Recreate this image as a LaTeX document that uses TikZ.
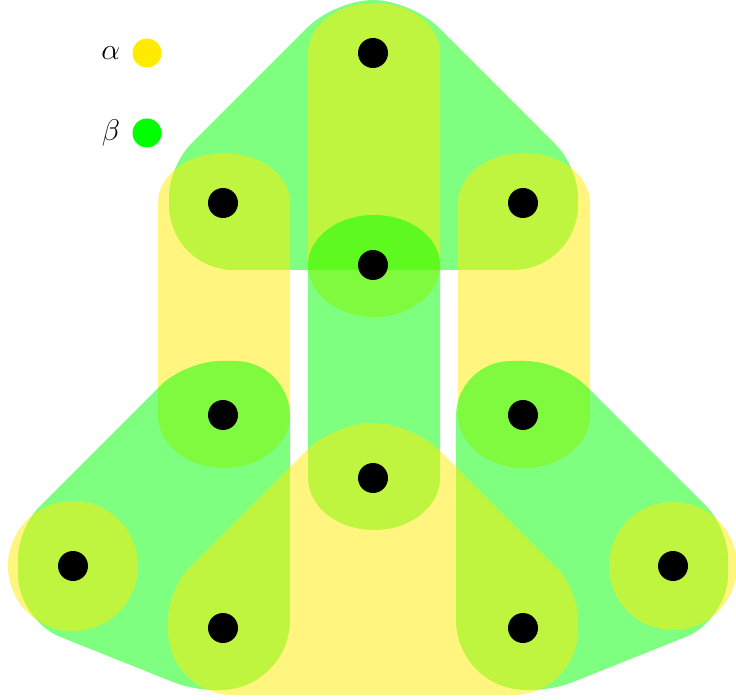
\documentclass[tikz,border=0pt]{standalone}
\usetikzlibrary{positioning,backgrounds}

\definecolor{alphayellow}{RGB}{255,235,0}
\definecolor{betagreen}{RGB}{0,255,0}

\tikzset{
  vertex/.style={circle, fill=black, minimum size=30pt, inner sep=0pt},
  alphaedge/.style={fill=alphayellow, fill opacity=0.5},
  betaedge/.style={fill=betagreen, fill opacity=0.5},
  legdot/.style={circle, minimum size=29pt, inner sep=0pt},
  legtext/.style={font=\Huge, inner sep=0pt},
}

\begin{document}
\begin{tikzpicture}[x=1pt, y=-1pt]
    \useasboundingbox (0,0) rectangle (736,700);

    % vertices
    \node[vertex] (a) at (373,53) {};
    \node[vertex] (b) at (223,203) {};
    \node[vertex] (c) at (523,203) {};
    \node[vertex] (d) at (373,265) {};
    \node[vertex] (e) at (223,415) {};
    \node[vertex] (f) at (523,415) {};
    \node[vertex] (g) at (373,478) {};
    \node[vertex] (h) at (73,566) {};
    \node[vertex] (i) at (223,628) {};
    \node[vertex] (j) at (673,566) {};
    \node[vertex] (k) at (523,628) {};

    % legend
    \node[legdot, fill=alphayellow] (alphadot) at (147,53) {};
    \node[legtext, left=12pt of alphadot] (alphalabel) {\scalebox{1.2}{$\alpha$}};
    \node[legdot, fill=betagreen] (betadot) at (147,133) {};
    \node[legtext, left=12pt of betadot] (betalabel) {\scalebox{1.2}{$\beta$}};

    % hyperedges, back to front
    \begin{scope}[on background layer]
    % beta: a, b, c
    \fill[betaedge] ([shift={(150,67)}]b.center)
        [rounded corners=65pt] -- ([shift={(-54,67)}]b.center)
        [rounded corners=30pt] -- ([shift={(-54,-37)}]b.center)
        [rounded corners=38pt] -- ([shift={(-38,-53)}]a.center)
        -- ([shift={(38,-53)}]a.center)
        [rounded corners=30pt] -- ([shift={(55,-36)}]c.center)
        [rounded corners=65pt] -- ([shift={(55,67)}]c.center)
        -- cycle;
    % alpha: a-d, b-e, c-f
    \fill[alphaedge] ([xshift=-65pt]a.center) arc[start angle=180, end angle=0, x radius=66pt, y radius=50pt]
        -- ([xshift=67pt]d.center) arc[start angle=0, end angle=-180, x radius=66pt, y radius=52pt] -- cycle;
    \fill[alphaedge] ([xshift=-65pt]b.center) arc[start angle=180, end angle=0, x radius=66pt, y radius=50pt]
        -- ([xshift=67pt]e.center) arc[start angle=0, end angle=-180, x radius=66pt, y radius=53pt] -- cycle;
    \fill[alphaedge] ([xshift=-65pt]c.center) arc[start angle=180, end angle=0, x radius=66pt, y radius=50pt]
        -- ([xshift=67pt]f.center) arc[start angle=0, end angle=-180, x radius=66pt, y radius=53pt] -- cycle;
    % beta: d-g
    \fill[betaedge] ([xshift=-65pt]d.center) arc[start angle=180, end angle=0, x radius=66pt, y radius=50pt]
        -- ([xshift=67pt]g.center) arc[start angle=0, end angle=-180, x radius=66pt, y radius=52pt] -- cycle;
    % beta: e, h, i
    \fill[betaedge] ([shift={(67,100)}]e.center)
        [rounded corners=70pt] -- ([shift={(67,62)}]i.center)
        [rounded corners=20pt] -- ([shift={(-30,62)}]i.center)
        [rounded corners=45pt] -- ([shift={(-55,54)}]h.center)
        [rounded corners=30pt] -- ([shift={(-55,-38)}]h.center)
        [rounded corners=35pt] -- ([shift={(-38,-54)}]e.center)
        [rounded corners=55pt] -- ([shift={(67,-54)}]e.center)
        -- cycle;
    % beta: f, j, k
    \fill[betaedge] ([shift={(-67,100)}]f.center)
        [rounded corners=70pt] -- ([shift={(-67,62)}]k.center)
        [rounded corners=20pt] -- ([shift={(30,62)}]k.center)
        [rounded corners=45pt] -- ([shift={(55,54)}]j.center)
        [rounded corners=30pt] -- ([shift={(55,-38)}]j.center)
        [rounded corners=35pt] -- ([shift={(38,-54)}]f.center)
        [rounded corners=55pt] -- ([shift={(-67,-54)}]f.center)
        -- cycle;
    % alpha: g, i, k
    \fill[alphaedge] ([shift={(150,67)}]i.center)
        [rounded corners=65pt] -- ([shift={(-55,67)}]i.center)
        [rounded corners=30pt] -- ([shift={(-55,-39)}]i.center)
        [rounded corners=38pt] -- ([shift={(-39,-55)}]g.center)
        -- ([shift={(39,-55)}]g.center)
        [rounded corners=30pt] -- ([shift={(55,-39)}]k.center)
        [rounded corners=65pt] -- ([shift={(55,67)}]k.center)
        -- cycle;
    % alpha: h and j alone
    \fill[alphaedge] (h.center) circle[radius=65pt];
    \fill[alphaedge] (j.center) circle[radius=64pt];
    \end{scope}
\end{tikzpicture}
\end{document}
